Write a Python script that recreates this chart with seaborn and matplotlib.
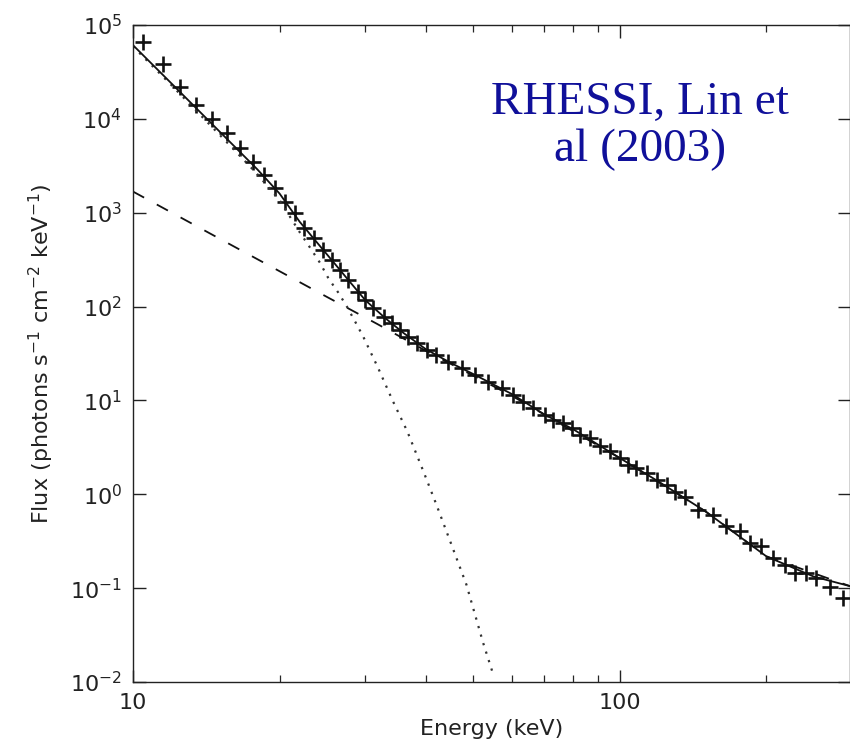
import numpy as np
import pandas as pd
import seaborn as sns
import matplotlib
matplotlib.use("Agg")
from matplotlib import pyplot as plt
from matplotlib import ticker

energy_obs = [10.5, 11.5, 12.5, 13.5, 14.5, 15.6, 16.6, 17.6, 18.6, 19.6, 20.5, 21.5, 22.4,
              23.5, 24.6, 25.6, 26.6, 27.7, 29.0, 30.0, 31.1, 32.7, 34.0, 35.3, 36.8, 38.4,
              40.1, 42.0, 44.4, 47.3, 50.4, 53.7, 57.2, 60.4, 63.3, 66.4, 70.2, 73.0, 76.5,
              79.6, 82.8, 86.8, 90.9, 95.4, 100, 104, 108, 113.5, 119, 124.7, 129.7, 136,
              144.8, 155.5, 165.6, 176.4, 184.9, 195.4, 206.5, 218.2, 228.7, 241.7, 253.4,
              269.9, 287.4]
flux_obs = [6.64e4, 3.81e4, 2.20e4, 1.41e4, 9910, 7030, 4860, 3500, 2530, 1820, 1313, 988, 684,
            535, 402, 314, 246, 192, 144.5, 117.8, 96.1, 78.3, 66.6, 56.5, 47.9, 40.7,
            34.6, 30.6, 25.9, 22.1, 18.7, 15.9, 13.5, 11.5, 9.73, 8.28, 7.03, 6.21, 5.73,
            5.07, 4.30, 3.97, 3.23, 2.86, 2.43, 2.06, 1.90, 1.68, 1.43, 1.26, 1.07, 0.947,
            0.684, 0.605, 0.454, 0.402, 0.302, 0.278, 0.209, 0.1775, 0.145, 0.145, 0.128,
            0.104, 0.0785]

# total fit (solid)
energy_fit = [10, 12, 14, 16, 18, 20, 22, 24, 26, 28, 30, 33, 36, 40, 45, 50, 60, 70, 80,
              100, 120, 150, 200, 250, 297]
flux_fit = [6.1e4, 2.38e4, 1.07e4, 5350, 2900, 1600, 800, 466, 284, 179, 117, 75, 52, 35, 25,
            19.1, 11.7, 7.08, 4.97, 2.43, 1.37, 0.656, 0.218, 0.133, 0.105]

# non-thermal power law (dashed)
energy_pl = [10, 15, 20, 25, 31.7, 40, 60, 100, 150, 200, 297]
flux_pl = [1680, 535, 238, 127, 65.5, 33.6, 11.2, 2.43, 0.656, 0.218, 0.105]

# thermal component (dotted)
energy_th = [10, 12, 14, 16, 18, 20, 22, 23.1, 24.2, 25.2, 26.4, 27.5, 28.6, 29.7, 31.9,
             34.1, 36.6, 39.5, 41.9, 45.1, 48.4, 52.4, 55.1]
flux_th = [5.9e4, 2.28e4, 1.0e4, 4900, 2580, 1360, 620, 425, 294, 200, 141, 100, 69, 48, 22,
           10.1, 4.67, 1.75, 0.8, 0.29, 0.109, 0.026, 0.0115]

sns.set_style("ticks")
plt.rcParams["font.family"] = ["DejaVu Sans"]
plt.rcParams["mathtext.default"] = "regular"

fig = plt.figure(figsize=(8.5, 7.42), dpi=100)
ax = fig.add_axes([133 / 850, 1 - 682 / 742, 1 - 133 / 850, (682 - 25) / 742])
ax.set_xscale("log")
ax.set_yscale("log")

ink = "#111111"
sns.lineplot(x=energy_pl, y=flux_pl, ax=ax, color=ink, lw=1.3, sort=False,
             linestyle=(0, (7, 8)))
sns.lineplot(x=energy_th, y=flux_th, ax=ax, color="#333333", lw=1.6, sort=False,
             linestyle=(0, (1, 3)))
sns.lineplot(x=energy_fit, y=flux_fit, ax=ax, color=ink, lw=1.3, sort=False)
sns.scatterplot(x=energy_obs, y=flux_obs, ax=ax, marker="+", s=120, color=ink,
                linewidth=1.9)

ax.set_xlim(10, 297)
ax.set_ylim(1e-2, 1e5)

ax.xaxis.set_major_locator(ticker.FixedLocator([10, 100]))
ax.xaxis.set_major_formatter(ticker.FixedFormatter(["10", "100"]))
ax.xaxis.set_minor_locator(ticker.FixedLocator([20, 30, 40, 50, 60, 70, 80, 90, 200]))
ax.xaxis.set_minor_formatter(ticker.NullFormatter())
ax.yaxis.set_major_locator(ticker.FixedLocator([10.0 ** k for k in range(-2, 6)]))
ax.yaxis.set_major_formatter(ticker.FuncFormatter(lambda v, p: r"$10^{%d}$" % round(np.log10(v))))
ax.yaxis.set_minor_locator(ticker.NullLocator())

ax.tick_params(axis="both", which="major", direction="in", length=9, width=1.0,
               top=True, right=True, labelsize=16, colors="#222222", pad=8)
ax.tick_params(axis="x", which="minor", direction="in", length=5, width=0.9, top=True)
for side in ["left", "bottom", "top", "right"]:
    ax.spines[side].set_linewidth(1.0)
    ax.spines[side].set_color("#222222")

ax.set_xlabel("Energy (keV)", fontsize=16, color="#222222", labelpad=4)
ax.set_ylabel(r"Flux (photons s$^{-1}$ cm$^{-2}$ keV$^{-1}$)", fontsize=16,
              color="#222222", labelpad=10)

fig.text(640 / 850, 1 - 126 / 742, "RHESSI, Lin et\nal (2003)", ha="center", va="center",
         fontsize=34, family="Liberation Serif", color="#10109a", linespacing=1.15)

fig.savefig("out.png", dpi=100)
